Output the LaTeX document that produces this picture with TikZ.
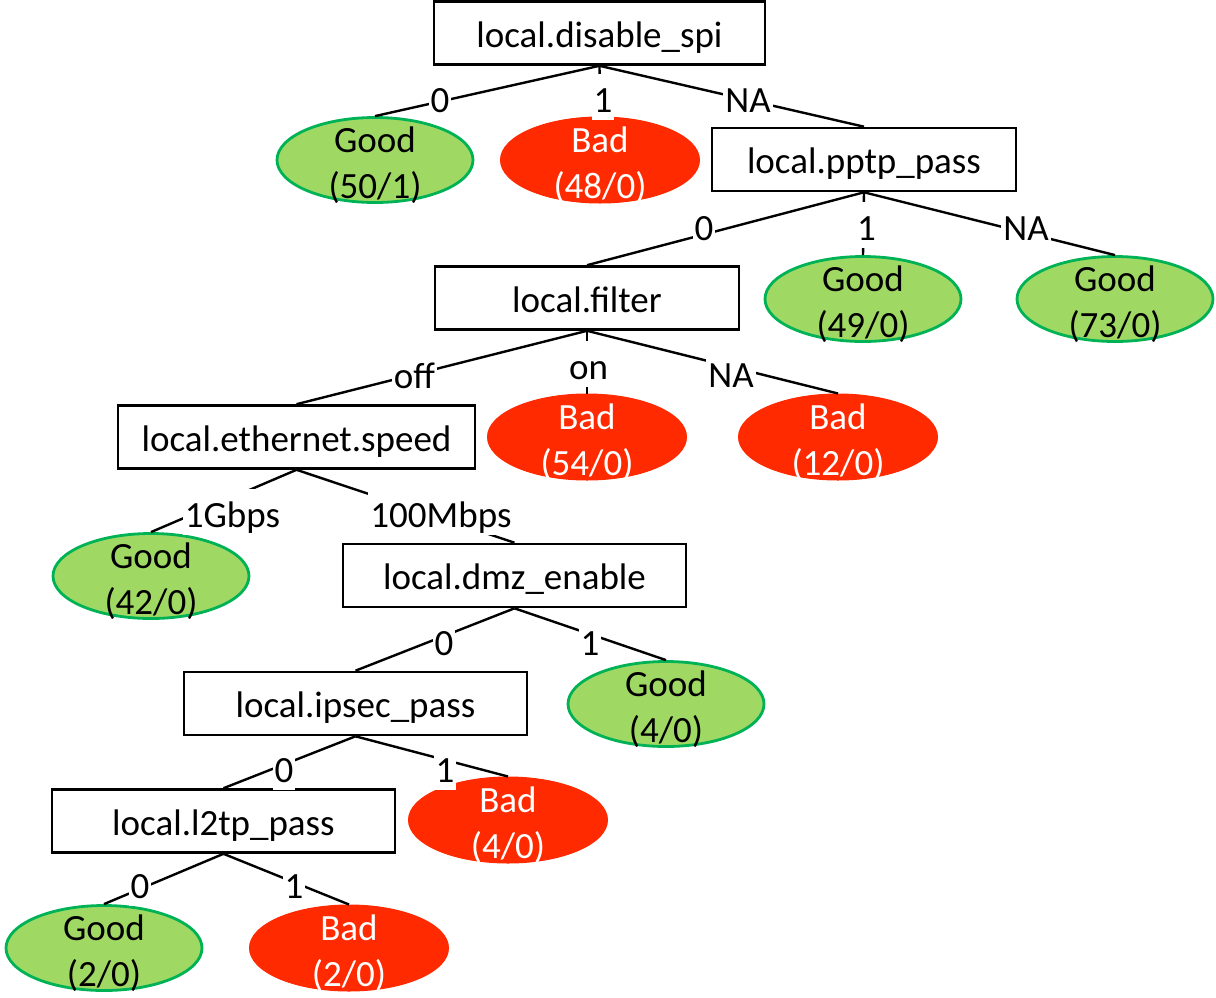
\documentclass[tikz,border=0pt]{standalone}
\usepackage{fontspec}
\setmainfont{Carlito}
\usetikzlibrary{shapes.geometric}

\definecolor{leafgreen}{RGB}{160,216,100}
\definecolor{leafedge}{RGB}{0,178,86}
\definecolor{leafred}{RGB}{255,42,0}

\tikzset{
  every node/.style={font=\fontsize{37pt}{46pt}\selectfont},
  split/.style={draw=black, fill=white, line width=2.6pt, minimum height=63pt,
    inner sep=0pt, text height=30pt, text depth=2pt},
  good/.style={ellipse, fill=leafgreen, draw=leafedge, line width=2.8pt,
    minimum width=196pt, minimum height=85pt, inner sep=0pt},
  bad/.style={ellipse, fill=leafred, draw=leafred, line width=1pt,
    minimum width=199pt, minimum height=86pt, inner sep=0pt},
  goodtext/.style={anchor=base, text=black, inner sep=0pt},
  badtext/.style={anchor=base, text=white, inner sep=0pt},
  branch/.style={draw=black, line width=2.4pt},
  cut/.style={anchor=base, fill=white, inner sep=0pt, inner xsep=2pt,
    text height=38pt, text depth=8pt},
}

% leaf: name, x, y, kind (good/bad), class word, counts
\newcommand\leafnode[6]{%
  \node[#4] (#1) at (#2,#3) {};
  \node[#4text] (#1-a) at (#2,#3-8) {#5};
  \node[#4text] (#1-b) at (#2,#3+38) {#6};
}

\begin{document}
\begin{tikzpicture}[x=1pt, y=-1pt]
  \useasboundingbox (0,0) rectangle (1216,997);

  % split nodes
  \node[split, minimum width=331pt] (spi)   at (599.5,33)  {local.disable\_spi};
  \node[split, minimum width=304pt] (pptp)  at (864,159.5) {local.pptp\_pass};
  \node[split, minimum width=304pt] (filt)  at (587,298)   {local.filter};
  \node[split, minimum width=357pt] (eth)   at (296.5,437) {local.ethernet.speed};
  \node[split, minimum width=343pt] (dmz)   at (514.5,575.5) {local.dmz\_enable};
  \node[split, minimum width=343pt] (ipsec) at (355.5,703.5) {local.ipsec\_pass};
  \node[split, minimum width=343pt] (l2tp)  at (223.5,821) {local.l2tp\_pass};

  % leaves
  \leafnode{g1}{375}{160}{good}{Good}{(50/1)}
  \leafnode{b1}{600}{160}{bad}{Bad}{(48/0)}
  \leafnode{g2}{863}{299}{good}{Good}{(49/0)}
  \leafnode{g3}{1115}{299}{good}{Good}{(73/0)}
  \leafnode{b2}{587}{437}{bad}{Bad}{(54/0)}
  \leafnode{b3}{838}{437}{bad}{Bad}{(12/0)}
  \leafnode{g4}{151}{576}{good}{Good}{(42/0)}
  \leafnode{g5}{666}{704}{good}{Good}{(4/0)}
  \leafnode{b4}{508}{820}{bad}{Bad}{(4/0)}
  \leafnode{g6}{104}{948}{good}{Good}{(2/0)}
  \leafnode{b5}{349}{948}{bad}{Bad}{(2/0)}

  % branches
  \draw[branch] (spi.south) -- (g1.north);
  \draw[branch] (spi.south) -- (b1.north);
  \draw[branch] (spi.south) -- (pptp.north);
  \draw[branch] (pptp.south) -- (filt.north);
  \draw[branch] (pptp.south) -- (g2.north);
  \draw[branch] (pptp.south) -- (g3.north);
  \draw[branch] (filt.south) -- (eth.north);
  \draw[branch] (filt.south) -- (b2.north);
  \draw[branch] (filt.south) -- (b3.north);
  \draw[branch] (eth.south) -- (g4.north);
  \draw[branch] (eth.south) -- (dmz.north);
  \draw[branch] (dmz.south) -- (ipsec.north);
  \draw[branch] (dmz.south) -- (g5.north);
  \draw[branch] (ipsec.south) -- (l2tp.north);
  \draw[branch] (ipsec.south) -- (b4.north);
  \draw[branch] (l2tp.south) -- (g6.north);
  \draw[branch] (l2tp.south) -- (b5.north);

  % branch labels
  \node[cut] (l-spi0)  at (440,112) {0};
  \node[cut] (l-spi1)  at (603,112) {1};
  \node[cut] (l-spiNA) at (748,112) {NA};
  \node[cut] (l-pp0)   at (704,240) {0};
  \node[cut] (l-pp1)   at (866.5,240) {1};
  \node[cut] (l-ppNA)  at (1026,240) {NA};
  \node[cut] (l-foff)  at (414.5,388) {off};
  \node[cut] (l-fon)   at (588.5,379) {on};
  \node[cut] (l-fNA)   at (731,387) {NA};
  \node[cut] (l-e1g)   at (232.5,527) {1Gbps};
  \node[cut] (l-e100)  at (441,527) {100Mbps};
  \node[cut] (l-d0)    at (444,655) {0};
  \node[cut] (l-d1)    at (590,655) {1};
  \node[cut] (l-i0)    at (284,782) {0};
  \node[cut] (l-i1)    at (445,782) {1};
  \node[cut] (l-l0)    at (140,898) {0};
  \node[cut] (l-l1)    at (294,898) {1};
\end{tikzpicture}
\end{document}
